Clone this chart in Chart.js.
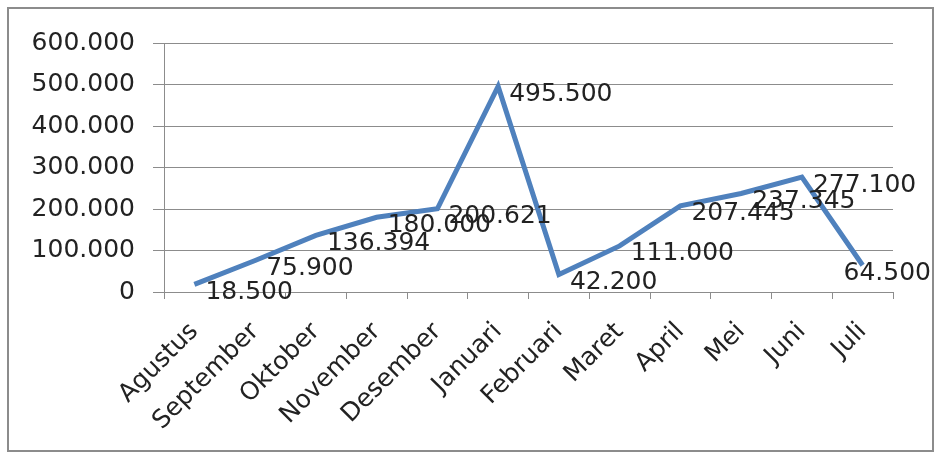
<!DOCTYPE html>
<html>
<head>
<meta charset="utf-8">
<script src="https://cdn.jsdelivr.net/npm/chart.js@4"></script>
<style>
  body { margin: 0; background: #fff; }
  #bingkai {
    position: absolute; left: 7px; top: 7px;
    width: 923px; height: 441px;
    border: 2px solid #8c8c8c;
    background: #fff;
  }
</style>
</head>
<body>
<div id="bingkai"><canvas id="grafik" width="923" height="441"></canvas></div>
<script>
// Data penjualan per bulan
const bulan = ['Agustus', 'September', 'Oktober', 'November', 'Desember', 'Januari',
               'Februari', 'Maret', 'April', 'Mei', 'Juni', 'Juli'];
const nilai = [18500, 75900, 136394, 180000, 200621, 495500,
               42200, 111000, 207445, 237345, 277100, 64500];
const sumbuY = { min: 0, max: 600000, langkah: 100000 };

// format angka pakai titik ribuan
function formatRibuan(v) {
    return String(Math.round(v)).replace(/\B(?=(\d{3})+(?!\d))/g, '.');
}

const HURUF = '"DejaVu Sans", sans-serif';

// label data di kanan titik (gaya Excel)
const labelData = {
    id: 'labelData',
    afterDatasetsDraw(chart) {
        const ctx = chart.ctx;
        const meta = chart.getDatasetMeta(0);
        ctx.save();
        ctx.font = '25px ' + HURUF;
        ctx.fillStyle = '#222';
        ctx.textAlign = 'left';
        ctx.textBaseline = 'middle';
        meta.data.forEach((p, i) => {
            const teks = formatRibuan(nilai[i]);
            const lebar = ctx.measureText(teks).width;
            let x = p.x + 11;
            if (x + lebar > chart.width - 1) x = chart.width - 1 - lebar;
            ctx.fillText(teks, x, p.y + 8);
        });
        ctx.restore();
    }
};

new Chart(document.getElementById('grafik'), {
    type: 'line',
    data: {
        labels: bulan,
        datasets: [{
            data: nilai,
            borderColor: '#4f81bd',
            borderWidth: 5,
            pointRadius: 0,
            tension: 0,
            fill: false
        }]
    },
    options: {
        responsive: false,
        animation: false,
        layout: { padding: { top: 34, right: 39, left: 0, bottom: 0 } },
        plugins: { legend: { display: false }, tooltip: { enabled: false } },
        scales: {
            x: {
                offset: true,
                grid: { offset: true, drawOnChartArea: false, color: '#8c8c8c', tickLength: 7 },
                border: { color: '#8c8c8c' },
                ticks: {
                    color: '#222', font: { family: HURUF, size: 25 },
                    maxRotation: 45, minRotation: 45, padding: 18, autoSkip: false
                },
                afterFit(s) { s.height = 158; }
            },
            y: {
                min: sumbuY.min, max: sumbuY.max,
                grid: { color: '#8c8c8c', tickLength: 11 },
                border: { color: '#8c8c8c' },
                ticks: {
                    stepSize: sumbuY.langkah, color: '#222', padding: 18,
                    font: { family: HURUF, size: 25 },
                    callback: v => formatRibuan(v)
                },
                afterFit(s) { s.width = 155; }
            }
        }
    },
    plugins: [labelData]
});
</script>
</body>
</html>
